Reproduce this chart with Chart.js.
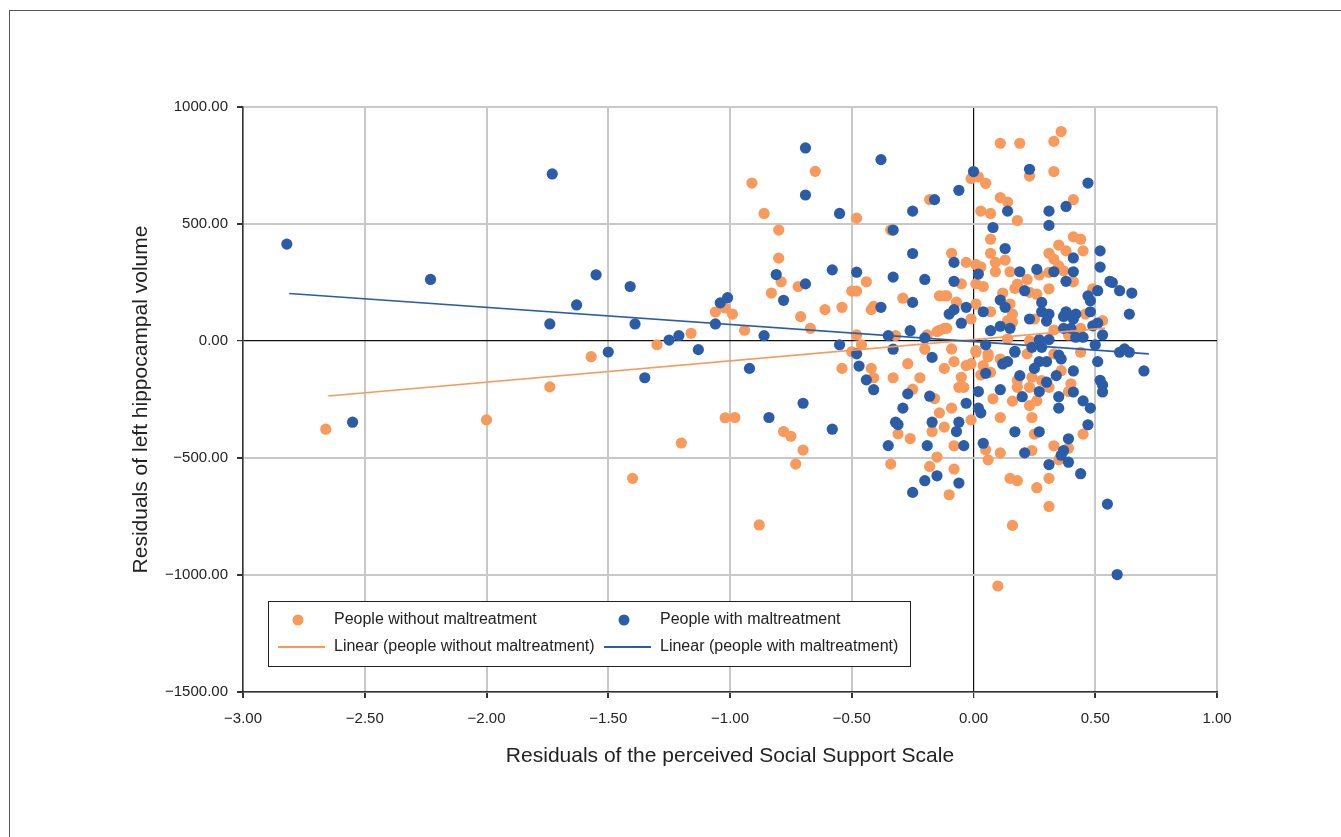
<!DOCTYPE html>
<html>
<head>
<meta charset="utf-8">
<script src="https://cdn.jsdelivr.net/npm/chart.js@4.4.1/dist/chart.umd.min.js"></script>
<style>
  html, body { margin: 0; padding: 0; background: #fff; overflow: hidden; }
  #wrap { position: relative; width: 1341px; height: 837px; }
  #frame { position: absolute; left: 9px; top: 10px; width: 1400px; height: 900px; border: 1px solid #555; }
  #myChart { position: absolute; left: 0; top: 0; }
</style>
</head>
<body>
<div id="wrap">
  <div id="frame"></div>
  <canvas id="myChart" width="1341" height="837"></canvas>
</div>
<script>
// People without maltreatment (orange)
const withoutX = [
  -2.66, -2.00, -1.74, -1.57, -1.30, -1.16, -1.40, -1.20, -1.02, -1.06, -1.02, -0.99, -0.98,
  -0.91, -0.65, -0.86, -0.48, -0.80, -0.34, -0.18, -0.80, -0.79, -0.72, -0.83, -0.44, -0.50, -0.48,
  -0.29, -0.42, -0.41, -0.54, -0.61, -0.71, -0.67, -0.94, -0.14, -0.48, -0.46, -0.50, -0.32, -0.19,
  -0.20, -0.14,
  -0.54, -0.42, -0.41, -0.33, -0.27, -0.22, -0.25, -0.16, -0.14, -0.78, -0.75, -0.70, -0.73, -0.88,
  -0.31, -0.26, -0.17, -0.34, -0.18, -0.15,
  0.36, 0.33, 0.11, 0.19, 0.33, 0.23, -0.01, 0.02, 0.05, 0.11, 0.14, 0.41, 0.03, 0.07, 0.18, 0.07,
  0.41, 0.44, 0.35, 0.38, 0.45, 0.31, 0.07, -0.09, 0.13, 0.09, -0.03, 0.01, 0.03, 0.15, 0.09, 0.33,
  0.35, 0.31, 0.37, 0.41, 0.27, 0.22, -0.05, 0.01, 0.04, 0.18, 0.17, 0.31, 0.49, 0.23, 0.26, 0.12,
  -0.12, -0.11, -0.07, 0.01, 0.15, 0.07, -0.01, 0.16, 0.16, 0.14, 0.25, 0.46, 0.53, 0.44, 0.33, 0.39,
  -0.12, -0.11, -0.15, 0.14, 0.23, -0.09, 0.01, 0.06, 0.22,
  0.10, 0.16, 0.31, -0.10, 0.15, 0.18, 0.26, 0.31, -0.08, 0.06, 0.11, 0.24, 0.35, 0.39, 0.33, 0.45,
  0.05, -0.08, -0.12, -0.09, -0.01, 0.11, 0.24, 0.25, 0.08, 0.16, 0.23, 0.26, 0.18, 0.23, 0.24, 0.28,
  0.40, 0.39, 0.31, 0.36, -0.05, -0.06, -0.04, -0.12, -0.08, -0.03, -0.01, 0.01, 0.06, 0.04, 0.11,
  0.07, 0.03, 0.18, 0.33, 0.44
];
const withoutY = [
  -377, -337, -196, -67, -16, 33, -587, -436, -328, 124, 141, 115, -327,
  675, 725, 545, 525, 474, 474, 604, 354, 253, 233, 205, 253, 213, 213,
  183, 134, 148, 144, 134, 104, 54, 46, 193, 26, -16, -46, 23, 26,
  -35, 46,
  -117, -117, -157, -157, -97, -157, -206, -246, -307, -387, -407, -466, -526, -786,
  -397, -417, -387, -526, -536, -496,
  895, 853, 845, 845, 724, 705, 694, 701, 674, 613, 594, 604, 555, 545, 515, 435,
  445, 435, 410, 385, 385, 375, 375, 375, 346, 336, 336, 326, 317, 296, 296, 350,
  321, 293, 300, 253, 282, 263, 244, 244, 233, 243, 225, 223, 223, 208, 200, 205,
  193, 193, 166, 158, 158, 125, 94, 115, 80, 87, 94, 115, 87, 54, 47, 26,
  54, 54, 40, 9, 1, -34, -41, -55, -55,
  -1047, -788, -707, -657, -587, -597, -627, -587, -547, -508, -478, -468, -508, -458, -448, -398,
  -465, -448, -368, -287, -337, -327, -327, -398, -247, -257, -276, -255, -198, -198, -155, -169,
  -183, -216, -198, -127, -155, -198, -198, -117, -88, -105, -97, -48, -67, -105, -77,
  -134, -145, -169, -55, -48
];

// People with maltreatment (blue)
const withX = [
  -2.82, -1.73, -2.23, -1.55, -1.41, -1.63, -1.74, -1.39, -1.50, -1.25, -1.21, -1.13, -1.35, -2.55,
  -1.06, -1.04, -1.01,
  -0.69, -0.38, -0.69, -0.55, -0.16, -0.25, -0.33, -0.25, -0.58, -0.48, -0.33, -0.20, -0.81, -0.69,
  -0.78, -0.25, -0.38, -0.86, -0.35, -0.26, -0.20, -0.55, -0.33, -0.48, -0.17,
  -0.92, -0.47, -0.44, -0.41, -0.27, -0.18, -0.29, -0.70, -0.84, -0.58, -0.32, -0.31, -0.17, -0.35,
  -0.19, -0.20, -0.25, -0.15,
  0.00, 0.23, 0.47, -0.06, 0.14, 0.31, 0.38, 0.31, 0.08, 0.13, 0.52, 0.41, -0.08, 0.52, 0.02, 0.19,
  0.26, 0.33, 0.41, -0.08, 0.38, 0.56, 0.57, 0.60, 0.65, 0.21, 0.51, 0.47, 0.48, 0.11, 0.28, 0.13,
  -0.10, -0.08, -0.03, 0.04, 0.28, 0.31, 0.38, 0.42, 0.48, 0.64, -0.05, 0.23, 0.30, 0.37, 0.41, 0.11,
  0.15, 0.07, 0.37, 0.40, 0.49, 0.51, 0.53, 0.42, 0.45, 0.05, 0.27, 0.31, 0.24, 0.28, 0.17, 0.35,
  0.50, 0.62, 0.60, 0.64,
  0.70, 0.51, 0.52, 0.53, 0.53, 0.41, 0.41, 0.45, 0.48, 0.47, 0.39, 0.37, 0.36, 0.39, 0.31, 0.44,
  0.55, 0.59, 0.27, 0.21, 0.17, 0.04, -0.06, -0.04, -0.07, -0.06, 0.02, 0.03, -0.03, 0.02, 0.11, 0.20,
  0.27, 0.35, 0.35, 0.30, 0.34, 0.19, 0.25, 0.05, 0.14, 0.12, 0.27, 0.30, 0.36, 0.17
];
const withY = [
  414, 714, 263, 283, 233, 154, 73, 73, -47, 4, 23, -37, -157, -347,
  73, 163, 185,
  825, 775, 624, 545, 604, 555, 474, 374, 304, 294, 273, 263, 284, 244,
  174, 165, 144, 23, 23, 44, 13, -16, -35, -55, -70,
  -117, -107, -166, -208, -226, -236, -287, -266, -327, -377, -347, -357, -347, -447,
  -447, -597, -647, -576,
  724, 734, 675, 644, 555, 555, 575, 494, 485, 395, 385, 355, 336, 316, 286, 296,
  306, 296, 296, 255, 255, 255, 250, 215, 205, 215, 215, 193, 172, 175, 165, 144,
  115, 134, 144, 125, 125, 115, 125, 115, 125, 115, 76, 94, 85, 105, 94, 63,
  54, 44, 54, 54, 65, 76, 26, 16, 16, -16, 6, 6, -27, -27, -44, -60,
  -16, -34, -48, -48,
  -128, -88, -168, -188, -218, -128, -218, -256, -287, -358, -418, -468, -488, -518, -528, -567,
  -697, -998, -388, -478, -388, -437, -607, -447, -387, -347, -287, -307, -266, -216, -208, -238,
  -216, -238, -287, -176, -148, -148, -117, -138, -88, -98, -88, -88, -77, -48
];

// linear trend lines (end points)
const trendWithoutX = [-2.65, 0.54];
const trendWithoutY = [-235, 55];
const trendWithX = [-2.81, 0.72];
const trendWithY = [203, -55];

const xTickStep = 0.5;
const yTickStep = 500;

const seriesLabels = [
  'People without maltreatment',
  'People with maltreatment',
  'Linear (people without maltreatment)',
  'Linear (people with maltreatment)'
];

const ORANGE = '#F79A5B';
const BLUE = '#2B5CA8';
const FONT = '"Liberation Sans", Arial, sans-serif';

function toPoints(xs, ys) {
    return xs.map((x, i) => ({ x: x, y: ys[i] }));
}

function fmt(v) {
    return Number(v).toFixed(2).replace('-', '\u2212');
}

// legend drawn as a framed box inside the plot, two columns
const boxLegend = {
    id: 'boxLegend',
    afterDraw(chart) {
        const ctx = chart.ctx;
        const a = chart.chartArea;
        const left = a.left + 25;
        const top = a.bottom - 91;
        ctx.save();
        ctx.fillStyle = '#fff';
        ctx.fillRect(left, top, 642, 65);
        ctx.strokeStyle = '#222';
        ctx.lineWidth = 1;
        ctx.strokeRect(left + 0.5, top + 0.5, 642, 65);

        const cols = [left, left + 326];
        const rows = [top + 19, top + 46];
        ctx.font = '16px ' + FONT;
        ctx.textBaseline = 'middle';
        chart.data.datasets.forEach((ds, i) => {
            const cx = cols[i % 2];
            const cy = rows[Math.floor(i / 2)];
            if (ds.showLine) {
                ctx.strokeStyle = ds.borderColor;
                ctx.lineWidth = 2;
                ctx.beginPath();
                ctx.moveTo(cx + 10, cy);
                ctx.lineTo(cx + 57, cy);
                ctx.stroke();
            } else {
                ctx.fillStyle = ds.backgroundColor;
                ctx.beginPath();
                ctx.arc(cx + 30, cy, 5.5, 0, Math.PI * 2);
                ctx.fill();
            }
            ctx.fillStyle = '#222';
            ctx.fillText(ds.label, cx + 66, cy);
        });
        ctx.restore();
    }
};

function buildGraphic() {
    const ctx = document.getElementById('myChart').getContext('2d');

    const data = {
        datasets: [{
            label: seriesLabels[0],
            data: toPoints(withoutX, withoutY),
            backgroundColor: ORANGE,
            borderWidth: 0,
            pointRadius: 5.6,
            order: 3
        }, {
            label: seriesLabels[1],
            data: toPoints(withX, withY),
            backgroundColor: BLUE,
            borderWidth: 0,
            pointRadius: 5.6,
            order: 2
        }, {
            label: seriesLabels[2],
            data: toPoints(trendWithoutX, trendWithoutY),
            showLine: true,
            borderColor: ORANGE,
            borderWidth: 1.6,
            pointRadius: 0,
            order: 1
        }, {
            label: seriesLabels[3],
            data: toPoints(trendWithX, trendWithY),
            showLine: true,
            borderColor: BLUE,
            borderWidth: 1.6,
            pointRadius: 0,
            order: 0
        }]
    };

    const config = {
        type: 'scatter',
        data: data,
        options: {
            responsive: false,
            animation: false,
            layout: {
                padding: { left: 120, top: 107, right: 124, bottom: 60 }
            },
            plugins: {
                legend: { display: false },
                tooltip: { enabled: false }
            },
            scales: {
                x: {
                    type: 'linear',
                    min: -3,
                    max: 1,
                    ticks: {
                        stepSize: xTickStep,
                        callback: fmt,
                        font: { size: 15, family: FONT },
                        color: '#222',
                        padding: 12
                    },
                    grid: {
                        color: c => c.tick && c.tick.value === 0 ? '#111' : '#c8c8c8',
                        lineWidth: c => c.tick && c.tick.value === 0 ? 1.2 : 2,
                        tickColor: '#333',
                        tickLength: 6
                    },
                    border: { color: '#333', width: 1.5 },
                    title: {
                        display: true,
                        text: 'Residuals of the perceived Social Support Scale',
                        font: { size: 21, family: FONT },
                        color: '#222',
                        padding: { top: 0, bottom: 8 }
                    },
                    afterFit: s => { s.height = 85; }
                },
                y: {
                    type: 'linear',
                    min: -1500,
                    max: 1000,
                    ticks: {
                        stepSize: yTickStep,
                        callback: fmt,
                        font: { size: 15, family: FONT },
                        color: '#222',
                        padding: 9
                    },
                    grid: {
                        color: c => c.tick && c.tick.value === 0 ? '#111' : '#c8c8c8',
                        lineWidth: c => c.tick && c.tick.value === 0 ? 1.2 : 2,
                        tickColor: '#333',
                        tickLength: 6
                    },
                    border: { color: '#333', width: 1.5 },
                    title: {
                        display: true,
                        text: 'Residuals of left hippocampal volume',
                        font: { size: 21, family: FONT },
                        color: '#222',
                        padding: { top: 9, bottom: 4 }
                    },
                    afterFit: s => { s.width = 123; }
                }
            }
        },
        plugins: [boxLegend]
    };

    const myChart = new Chart(ctx, config);
}

buildGraphic();
</script>
</body>
</html>
